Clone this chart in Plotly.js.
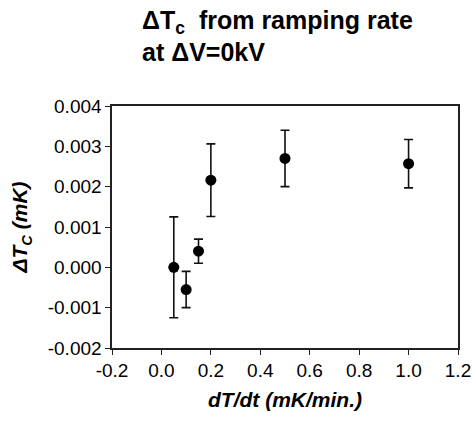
<!DOCTYPE html>
<html>
<head>
<meta charset="utf-8">
<script src="https://cdn.plot.ly/plotly-3.0.1.min.js"></script>
<style>html,body{margin:0;padding:0;background:#fff;}#chart{width:472px;height:422px;}</style>
</head>
<body>
<div id="chart"></div>
<script>
const rampRate = [0.05, 0.1, 0.15, 0.2, 0.5, 1.0];
const deltaTc = [0.0000, -0.00055, 0.0004, 0.00216, 0.0027, 0.00257];
const errorTc = [0.00125, 0.00045, 0.0003, 0.0009, 0.0007, 0.0006];
const xTicks = [-0.2, 0.0, 0.2, 0.4, 0.6, 0.8, 1.0, 1.2];
const xTickText = ['-0.2', '0.0', '0.2', '0.4', '0.6', '0.8', '1.0', '1.2'];
const yTicks = [-0.002, -0.001, 0.000, 0.001, 0.002, 0.003, 0.004];
const yTickText = ['-0.002', '-0.001', '0.000', '0.001', '0.002', '0.003', '0.004'];
const titleLine1 = '<b>ΔT<sub>c</sub>  from ramping rate</b>';
const titleLine2 = '<b>at ΔV=0kV</b>';

const font = 'Liberation Sans, Arial, sans-serif';
const trace = {
  x: rampRate, y: deltaTc, type: 'scatter', mode: 'markers',
  marker: {color: '#000', size: 11},
  error_y: {type: 'data', array: errorTc, visible: true, color: '#111', thickness: 1.6, width: 4.5},
  showlegend: false
};
const layout = {
  width: 472, height: 422,
  margin: {l: 112, r: 14, t: 106, b: 74},
  paper_bgcolor: '#fff', plot_bgcolor: '#fff',
  font: {family: font, color: '#000', size: 19},
  title: {
    text: titleLine1,
    font: {family: font, size: 25, color: '#000'},
    x: 142/472, xanchor: 'left', xref: 'container',
    y: 1 - 29/422, yanchor: 'bottom', yref: 'container'
  },
  annotations: [{
    text: titleLine2, xref: 'paper', yref: 'paper',
    x: (140 - 112) / 346, xanchor: 'left',
    y: (348 - 68) / 242, yanchor: 'bottom',
    showarrow: false, font: {family: font, size: 25, color: '#000'}
  }],
  xaxis: {
    range: [-0.2, 1.2], tickvals: xTicks, ticktext: xTickText,
    showgrid: false, zeroline: false, showline: true, linecolor: '#222', linewidth: 1.6,
    mirror: true, ticks: 'outside', ticklen: 5, tickcolor: '#222', tickwidth: 1,
    tickfont: {size: 19},
    title: {text: '<b><i>dT/dt (mK/min.)</i></b>', font: {size: 21}, standoff: 12}
  },
  yaxis: {
    range: [-0.002, 0.004], tickvals: yTicks, ticktext: yTickText,
    showgrid: false, zeroline: false, showline: true, linecolor: '#222', linewidth: 1.6,
    mirror: true, ticks: 'outside', ticklen: 5, tickcolor: '#222', tickwidth: 1,
    tickfont: {size: 19},
    title: {text: '<b><i>ΔT<sub>C</sub> (mK)</i></b>', font: {size: 21}, standoff: 14}
  }
};
Plotly.newPlot('chart', [trace], layout, {displayModeBar: false, staticPlot: true});
</script>
</body>
</html>
